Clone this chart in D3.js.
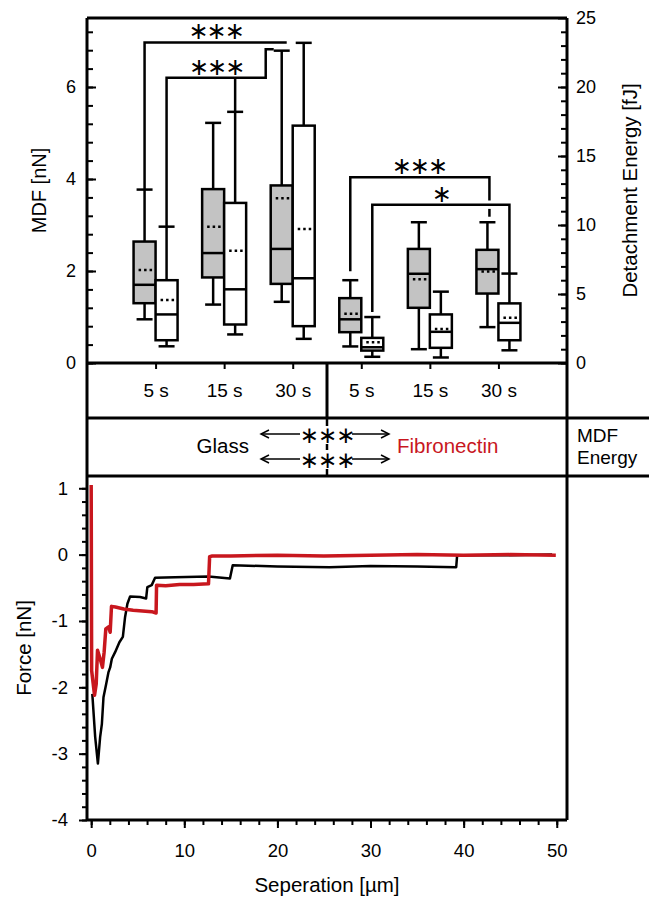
<!DOCTYPE html>
<html>
<head>
<meta charset="UTF-8">
<title>MDF / detachment energy and force curves</title>
<script src="https://cdn.jsdelivr.net/npm/d3@7"></script>
<style>
  body { margin: 0; background: #fff; }
  svg { display: block; }
</style>
</head>
<body>
<script>
var W = 649, H = 898;
var FONT = "'Liberation Sans', Arial, sans-serif";
var RED = "#c8171e";

// groups along the x axis of the box plot
var substrates = ["Glass", "Fibronectin"];
var times = ["5 s", "15 s", "30 s"];
var groups = ["Glass 5 s", "Glass 15 s", "Glass 30 s", "Fibronectin 5 s", "Fibronectin 15 s", "Fibronectin 30 s"];

// MDF [nN] (grey boxes)
var mdfLow  = [0.95, 1.27, 1.33, 0.36, 0.30, 0.78];
var mdfQ1   = [1.30, 1.86, 1.72, 0.67, 1.20, 1.51];
var mdfMed  = [1.70, 2.39, 2.48, 0.95, 1.94, 2.04];
var mdfQ3   = [2.64, 3.78, 3.86, 1.41, 2.48, 2.46];
var mdfHigh = [3.77, 5.22, 6.79, 1.80, 3.06, 3.06];
var mdfMean = [2.02, 2.96, 3.58, 1.07, 1.82, 1.99];

// Detachment energy [fJ] (white boxes)
var enLow  = [1.21, 2.07, 1.75, 0.45, 0.40, 0.92];
var enQ1   = [1.65, 2.79, 2.67, 0.90, 1.10, 1.65];
var enMed  = [3.52, 5.34, 6.14, 1.14, 2.26, 2.91];
var enQ3   = [6.00, 11.6, 17.2, 1.82, 3.52, 4.32];
var enHigh = [9.88, 18.2, 23.2, 3.33, 5.17, 6.48];
var enMean = [4.56, 8.13, 9.71, 1.51, 2.47, 3.28];

// significance brackets: label and height [nN]
var sigLabels = ["***", "***", "***", "*"];
var sigLevels = [6.97, 6.20, 4.04, 3.44];

// force-separation curves
var glassSep   = [0.12, 0.43, 0.72, 0.96, 1.15, 1.32, 1.61, 1.86, 2.04, 2.22, 2.57, 3.03, 3.40, 3.64, 3.89, 4.18, 5.25, 5.90, 6.03, 6.50, 6.86, 9.0, 12.6, 14.9, 15.2, 20, 25.6, 30, 35, 39.2, 39.3, 45, 49.5];
var glassForce = [-2.10, -2.75, -3.15, -2.75, -2.55, -2.15, -1.95, -1.77, -1.70, -1.57, -1.47, -1.32, -1.24, -0.94, -0.74, -0.63, -0.64, -0.66, -0.49, -0.46, -0.35, -0.34, -0.33, -0.36, -0.16, -0.18, -0.19, -0.17, -0.18, -0.19, -0.01, -0.01, 0.0];
var fibSep   = [0.0, 0.05, 0.36, 0.54, 0.68, 0.96, 1.21, 1.39, 1.57, 1.86, 2.04, 2.18, 2.6, 3.5, 4.5, 5.5, 6.5, 6.97, 7.02, 8, 9.5, 11, 12.6, 12.72, 13.0, 15, 20, 25, 30, 35, 40, 45, 49.9];
var fibForce = [1.05, -1.75, -2.12, -1.95, -1.44, -1.57, -1.70, -1.47, -1.12, -1.09, -1.17, -0.78, -0.79, -0.82, -0.84, -0.85, -0.86, -0.88, -0.46, -0.47, -0.45, -0.45, -0.44, -0.03, -0.02, -0.02, -0.01, -0.02, -0.01, 0.0, -0.01, 0.0, -0.01];

var svg = d3.select("body").append("svg").attr("width", W).attr("height", H)
  .attr("font-family", FONT);

// ---------- top panel: box plots ----------
var box = {l: 87, r: 567, t: 18, b: 363};
var row1 = 418, row2 = 476;
var bw = 22;

var xCat = d3.scalePoint().domain(groups).range([box.l, box.r]).padding(1);
var yMdf = d3.scaleLinear().domain([0, 7.5]).range([box.b, box.t]);
var yEn = d3.scaleLinear().domain([0, 25]).range([box.b, box.t]);
var plain = function (d) { return String(d); };

function styleAxis(g, size) {
  g.select(".domain").remove();
  g.selectAll(".tick line").attr("stroke", "#000").attr("stroke-width", 2);
  g.selectAll(".tick text").attr("font-size", size).attr("fill", "#000").attr("font-family", FONT);
}

// left axis (MDF)
svg.append("g").attr("transform", "translate(" + box.l + ",0)")
  .call(d3.axisLeft(yMdf).tickValues(d3.range(0, 7.5, 0.4)).tickSize(-6).tickFormat(""))
  .call(styleAxis, 18);
svg.append("g").attr("transform", "translate(" + box.l + ",0)")
  .call(d3.axisLeft(yMdf).tickValues([0, 2, 4, 6]).tickSize(-9).tickPadding(11).tickFormat(plain))
  .call(styleAxis, 18);

// right axis (energy)
svg.append("g").attr("transform", "translate(" + box.r + ",0)")
  .call(d3.axisRight(yEn).tickValues(d3.range(0, 25, 1)).tickSize(-6).tickFormat(""))
  .call(styleAxis, 18);
svg.append("g").attr("transform", "translate(" + box.r + ",0)")
  .call(d3.axisRight(yEn).tickValues([0, 5, 10, 15, 20, 25]).tickSize(-9).tickPadding(9).tickFormat(plain))
  .call(styleAxis, 18);

// category axis with time labels in the first table row
svg.append("g").attr("transform", "translate(0," + box.b + ")")
  .call(d3.axisBottom(xCat).tickSize(6).tickPadding(15).tickFormat(function (d) {
    return d.split(" ").slice(1).join(" ");
  }))
  .call(styleAxis, 19);

svg.append("text").attr("transform", "translate(46," + (box.t + box.b) / 2 + ") rotate(-90)")
  .attr("text-anchor", "middle").attr("font-size", 20).text("MDF [nN]");
svg.append("text").attr("transform", "translate(637," + (box.t + box.b) / 2 + ") rotate(-90)")
  .attr("text-anchor", "middle").attr("font-size", 20.5).text("Detachment Energy [fJ]");

// boxes
var boxData = [];
groups.forEach(function (g, i) {
  boxData.push({cx: xCat(g) - bw / 2, sc: yMdf, fill: "#c3c3c3",
    low: mdfLow[i], q1: mdfQ1[i], med: mdfMed[i], q3: mdfQ3[i], high: mdfHigh[i], mean: mdfMean[i]});
  boxData.push({cx: xCat(g) + bw / 2, sc: yEn, fill: "#fff",
    low: enLow[i], q1: enQ1[i], med: enMed[i], q3: enQ3[i], high: enHigh[i], mean: enMean[i]});
});

var boxes = svg.append("g").attr("stroke", "#000").attr("stroke-width", 2.5)
  .selectAll("g").data(boxData).join("g")
  .attr("transform", function (d) { return "translate(" + d.cx + ",0)"; });
boxes.append("line").attr("y1", function (d) { return d.sc(d.high); }).attr("y2", function (d) { return d.sc(d.q3); });
boxes.append("line").attr("y1", function (d) { return d.sc(d.q1); }).attr("y2", function (d) { return d.sc(d.low); });
boxes.append("line").attr("x1", -8).attr("x2", 8)
  .attr("y1", function (d) { return d.sc(d.high); }).attr("y2", function (d) { return d.sc(d.high); });
boxes.append("line").attr("x1", -8).attr("x2", 8)
  .attr("y1", function (d) { return d.sc(d.low); }).attr("y2", function (d) { return d.sc(d.low); });
boxes.append("rect").attr("x", -bw / 2).attr("width", bw)
  .attr("y", function (d) { return d.sc(d.q3); })
  .attr("height", function (d) { return d.sc(d.q1) - d.sc(d.q3); })
  .attr("fill", function (d) { return d.fill; });
boxes.append("line").attr("x1", -bw / 2).attr("x2", bw / 2)
  .attr("y1", function (d) { return d.sc(d.med); }).attr("y2", function (d) { return d.sc(d.med); });
boxes.append("line").attr("x1", -bw / 2 + 5).attr("x2", bw / 2 - 3)
  .attr("stroke-dasharray", "2.5,3")
  .attr("y1", function (d) { return d.sc(d.mean); }).attr("y2", function (d) { return d.sc(d.mean); });

// significance brackets
function gx(i) { return xCat(groups[i]) - bw / 2; }
function wx(i) { return xCat(groups[i]) + bw / 2; }
var brackets = [
  [[gx(0), yMdf(mdfHigh[0])], [gx(0), yMdf(sigLevels[0])], [xCat(groups[2]) - 6, yMdf(sigLevels[0])]],
  [[wx(0), yEn(enHigh[0])], [wx(0), yMdf(sigLevels[1])], [xCat(groups[2]) - 27, yMdf(sigLevels[1])],
   [xCat(groups[2]) - 27, yMdf(6.82)], [gx(2) - 8, yMdf(6.82)]],
  [[wx(1), yMdf(sigLevels[1])], [wx(1), yEn(enHigh[1])]],
  [[gx(3), yMdf(mdfHigh[3]) - 9], [gx(3), yMdf(sigLevels[2])], [gx(5) + 2, yMdf(sigLevels[2])], [gx(5) + 2, yMdf(3.53)]],
  [[gx(5) + 2, yMdf(3.35)], [gx(5) + 2, yMdf(3.18)]],
  [[wx(3), yEn(enHigh[3]) - 5], [wx(3), yMdf(sigLevels[3])], [wx(5), yMdf(sigLevels[3])], [wx(5), yEn(enHigh[5])]]
];
svg.append("g").selectAll("path").data(brackets).join("path")
  .attr("d", d3.line()).attr("fill", "none").attr("stroke", "#000").attr("stroke-width", 2.5);

var sigPos = [
  [(gx(0) + xCat(groups[2]) - 6) / 2, sigLevels[0]],
  [(wx(0) + xCat(groups[2]) - 27) / 2, sigLevels[1]],
  [(gx(3) + gx(5)) / 2, sigLevels[2]],
  [(wx(3) + wx(5)) / 2, sigLevels[3]]
];
svg.append("g").selectAll("text").data(sigLabels).join("text")
  .attr("x", function (d, i) { return sigPos[i][0]; })
  .attr("y", function (d, i) { return yMdf(sigPos[i][1]) - 11; })
  .attr("text-anchor", "middle").attr("dominant-baseline", "central")
  .attr("font-family", "'DejaVu Sans', sans-serif").attr("font-size", 24)
  .attr("letter-spacing", -2)
  .text(function (d) { return d.replace(/\*/g, "\u2217"); });

// ---------- table rows ----------
var divX = (xCat(groups[2]) + xCat(groups[3])) / 2;
var frame = svg.append("g").attr("stroke", "#000").attr("stroke-width", 3).attr("fill", "none");
frame.append("line").attr("x1", box.l).attr("x2", box.r).attr("y1", box.t).attr("y2", box.t);
frame.append("line").attr("x1", box.l).attr("x2", box.r).attr("y1", box.b).attr("y2", box.b);
frame.append("line").attr("x1", box.l).attr("x2", W).attr("y1", row1).attr("y2", row1);
frame.append("line").attr("x1", box.l).attr("x2", W).attr("y1", row2).attr("y2", row2);
frame.append("line").attr("x1", box.l).attr("x2", box.l).attr("y1", box.t).attr("y2", 820);
frame.append("line").attr("x1", box.r).attr("x2", box.r).attr("y1", box.t).attr("y2", 820);
frame.append("line").attr("x1", divX).attr("x2", divX).attr("y1", box.b).attr("y2", row1);
frame.append("line").attr("x1", divX).attr("x2", divX).attr("y1", row1).attr("y2", row2)
  .attr("stroke-width", 2.5).attr("stroke-dasharray", "8,18,6,19,8");

svg.append("text").attr("x", divX - 78).attr("y", 453).attr("text-anchor", "end")
  .attr("font-size", 20.5).text(substrates[0]);
svg.append("text").attr("x", divX + 70).attr("y", 453)
  .attr("font-size", 20.5).attr("fill", RED).text(substrates[1]);
svg.append("text").attr("x", 577).attr("y", 442).attr("font-size", 19).text("MDF");
svg.append("text").attr("x", 577).attr("y", 464).attr("font-size", 19).text("Energy");

[434, 459].forEach(function (y) {
  var g = svg.append("g").attr("stroke", "#000").attr("stroke-width", 1.5).attr("fill", "none");
  g.append("line").attr("x1", divX - 66).attr("x2", divX - 27).attr("y1", y).attr("y2", y);
  g.append("path").attr("d", "M" + (divX - 58) + "," + (y - 4) + "L" + (divX - 66) + "," + y + "L" + (divX - 58) + "," + (y + 4));
  g.append("line").attr("x1", divX + 25).attr("x2", divX + 62).attr("y1", y).attr("y2", y);
  g.append("path").attr("d", "M" + (divX + 54) + "," + (y - 4) + "L" + (divX + 62) + "," + y + "L" + (divX + 54) + "," + (y + 4));
  svg.append("text").attr("x", divX).attr("y", y + 1).attr("text-anchor", "middle")
    .attr("dominant-baseline", "central").attr("font-family", "'DejaVu Sans', sans-serif")
    .attr("font-size", 23).attr("letter-spacing", -1).text("\u2217\u2217\u2217");
});

// ---------- bottom panel: force curves ----------
var fp = {l: 87, r: 567, t: 476, b: 820};
var xSep = d3.scaleLinear().domain([-0.45, 51.1]).range([fp.l, fp.r]);
var yF = d3.scaleLinear().domain([-4, 1.185]).range([fp.b, fp.t]);

svg.append("g").attr("transform", "translate(" + fp.l + ",0)")
  .call(d3.axisLeft(yF).tickValues(d3.range(-4, 1.1, 0.2)).tickSize(5).tickFormat(""))
  .call(styleAxis, 18);
svg.append("g").attr("transform", "translate(" + fp.l + ",0)")
  .call(d3.axisLeft(yF).tickValues([-4, -3, -2, -1, 0, 1]).tickSize(8).tickPadding(11).tickFormat(plain))
  .call(styleAxis, 18.5);
svg.append("g").attr("transform", "translate(0," + fp.b + ")")
  .call(d3.axisBottom(xSep).tickValues(d3.range(0, 51, 2)).tickSize(5).tickFormat(""))
  .call(styleAxis, 18);
svg.append("g").attr("transform", "translate(0," + fp.b + ")")
  .call(d3.axisBottom(xSep).tickValues([0, 10, 20, 30, 40, 50]).tickSize(8).tickPadding(16).tickFormat(plain))
  .call(styleAxis, 18.5);
svg.append("line").attr("x1", fp.l).attr("x2", fp.r).attr("y1", fp.b).attr("y2", fp.b)
  .attr("stroke", "#000").attr("stroke-width", 3);

svg.append("text").attr("transform", "translate(31," + (fp.t + fp.b) / 2 + ") rotate(-90)")
  .attr("text-anchor", "middle").attr("font-size", 20.5).text("Force [nN]");
svg.append("text").attr("x", (fp.l + fp.r) / 2).attr("y", 892)
  .attr("text-anchor", "middle").attr("font-size", 20.5).text("Seperation [\u00b5m]");

svg.append("clipPath").attr("id", "clip").append("rect")
  .attr("x", fp.l + 1).attr("y", fp.t + 1).attr("width", fp.r - fp.l - 2).attr("height", fp.b - fp.t - 2);
var line = d3.line().x(function (d) { return xSep(d[0]); }).y(function (d) { return yF(d[1]); });
var curves = svg.append("g").attr("clip-path", "url(#clip)");
curves.append("path").datum(d3.zip(glassSep, glassForce)).attr("d", line)
  .attr("fill", "none").attr("stroke", "#000").attr("stroke-width", 2.5).attr("stroke-linejoin", "round");
curves.append("path").datum(d3.zip(fibSep, fibForce)).attr("d", line)
  .attr("fill", "none").attr("stroke", RED).attr("stroke-width", 3.5).attr("stroke-linejoin", "round");
</script>
</body>
</html>
